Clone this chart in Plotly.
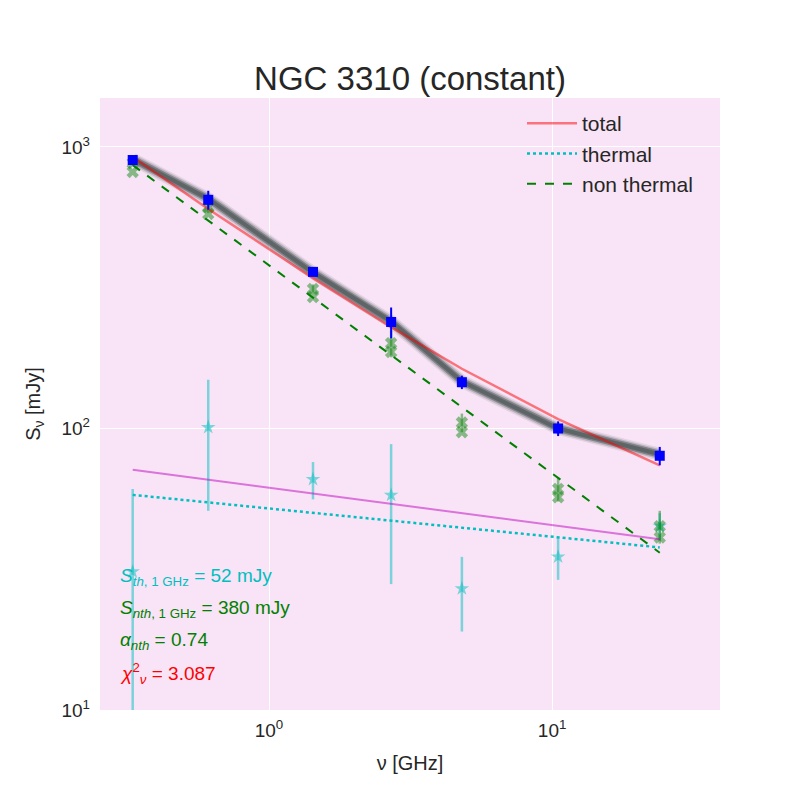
import plotly.graph_objects as go

# frequencies in GHz
freq = [0.33, 0.61, 1.43, 2.7, 4.8, 10.5, 24.0]

# observed total flux (mJy)
s_total = [899, 649, 360, 239, 146, 100, 80]
s_total_err = [20, 50, 12, 30, 8, 6, 6]

# thermal estimate points (mJy)
s_th_pts = [31, 101, 66, 58, 27, 35, 45]
s_th_up = [30, 48, 10, 30, 8, 6, 5]
s_th_dn = [29, 50, 10, 30, 8, 6, 5]

# non thermal estimate points (mJy)
s_nth_a = [877, 612, 313, 201, 105, 61, 45]
s_nth_b = [815, 578, 293, 187, 97, 57, 41]
s_nth_err = [15, 30, 12, 22, 8, 6, 6]

# model curves (mJy)
model_total = [921, 602, 342, 229, 163, 108, 74]
model_th = [58.1, 54.6, 50.2, 47.1, 44.4, 41.1, 37.8]
model_nth = [863, 548, 292, 182, 119, 66.7, 36.2]
model_th2 = [71.4, 65.8, 58.8, 54.0, 50.0, 45.1, 40.4]
mcmc_mean = [905, 655, 358, 240, 147, 100, 81]

# page body adds 8px, so everything is placed 8px up/left
OFF = 8

fig = go.Figure()

# thermal points
fig.add_trace(go.Scatter(
    x=freq, y=s_th_pts, mode='markers', showlegend=False,
    marker=dict(symbol='star', size=11, color='rgba(0,191,191,0.5)', line_width=0),
    error_y=dict(type='data', array=s_th_up, arrayminus=s_th_dn, symmetric=False,
                 color='rgba(0,191,191,0.5)', thickness=2.5, width=0)))

# non thermal points
for ys, err in [(s_nth_a, s_nth_err), (s_nth_b, None)]:
    fig.add_trace(go.Scatter(
        x=freq, y=ys, mode='markers', showlegend=False,
        marker=dict(symbol='x', size=11, color='rgba(0,128,0,0.45)', line_width=0),
        error_y=dict(type='data', array=err, color='rgba(0,128,0,0.45)',
                     thickness=2.5, width=0, visible=err is not None)))

fig.add_trace(go.Scatter(x=freq, y=model_th2, mode='lines', showlegend=False,
                         line=dict(color='rgba(191,0,191,0.5)', width=2)))

# mcmc band
for w, a in [(13, 0.12), (10, 0.25), (7, 0.5), (4, 0.6)]:
    fig.add_trace(go.Scatter(x=freq, y=mcmc_mean, mode='lines', showlegend=False,
                             line=dict(color=f'rgba(70,82,82,{a})', width=w)))

fig.add_trace(go.Scatter(x=freq, y=model_total, mode='lines', name='total',
                         line=dict(color='rgba(255,0,0,0.5)', width=2.5)))
fig.add_trace(go.Scatter(x=freq, y=model_th, mode='lines', name='thermal',
                         line=dict(color='#00bfbf', width=2.5, dash='dot')))
fig.add_trace(go.Scatter(x=freq, y=model_nth, mode='lines', name='non thermal',
                         line=dict(color='green', width=2, dash='dash')))

fig.add_trace(go.Scatter(
    x=freq, y=s_total, mode='markers', showlegend=False,
    marker=dict(symbol='square', size=10, color='blue', line_width=0),
    error_y=dict(type='data', array=s_total_err, color='blue', thickness=2, width=0)))

notes = [
    ('<i>S</i><sub><i>th</i>, 1 GHz</sub> = 52 mJy', '#00bfbf', 577),
    ('<i>S</i><sub><i>nth</i>, 1 GHz</sub> = 380 mJy', 'green', 609),
    ('<i>α</i><sub><i>nth</i></sub> = 0.74', 'green', 641),
    ('<i>χ</i><sup>2</sup><sub><i>ν</i></sub> = 3.087', 'red', 673),
]
for txt, col, ypx in notes:
    fig.add_annotation(text=txt, xref='paper', yref='paper',
                       x=(118 - 100) / 620, y=(710 - ypx) / 612,
                       xanchor='left', yanchor='middle', showarrow=False,
                       font=dict(size=19, color=col))

fig.update_layout(
    width=800, height=800,
    margin=dict(l=100 - OFF, r=80 + OFF, t=98 - OFF, b=90 + OFF),
    paper_bgcolor='white', plot_bgcolor='#f8e4f6',
    font=dict(family='Liberation Sans', color='#262626', size=18),
    title=dict(text='NGC 3310 (constant)', x=(410 - OFF) / 800, xanchor='center',
               y=1 - (78 - OFF) / 800, yanchor='middle', font=dict(size=33)),
    legend=dict(x=(522 - 100) / 620, y=1 - 5 / 612, xanchor='left', yanchor='top',
                bgcolor='rgba(0,0,0,0)', font=dict(size=21), itemwidth=50,
                tracegroupgap=0),
    showlegend=True,
)
fig.update_xaxes(type='log', range=[-0.597, 1.593], tickvals=[1, 10],
                 ticktext=['10<sup>0</sup>', '10<sup>1</sup>'], ticklabelstandoff=7,
                 tickfont=dict(size=19),
                 showgrid=True, gridcolor='white', gridwidth=1.2, zeroline=False,
                 ticks='', showline=False, title=dict(text='ν [GHz]', font=dict(size=20)))
fig.update_yaxes(type='log', range=[1, 3.174], tickvals=[10, 100, 1000],
                 ticktext=['10<sup>1</sup>', '10<sup>2</sup>', '10<sup>3</sup>'],
                 ticklabelstandoff=9, tickfont=dict(size=19),
                 showgrid=True, gridcolor='white', gridwidth=1.2, zeroline=False,
                 ticks='', showline=False,
                 title=dict(text='S<sub>ν</sub> [mJy]', font=dict(size=20)))

fig.write_html('out.html')
